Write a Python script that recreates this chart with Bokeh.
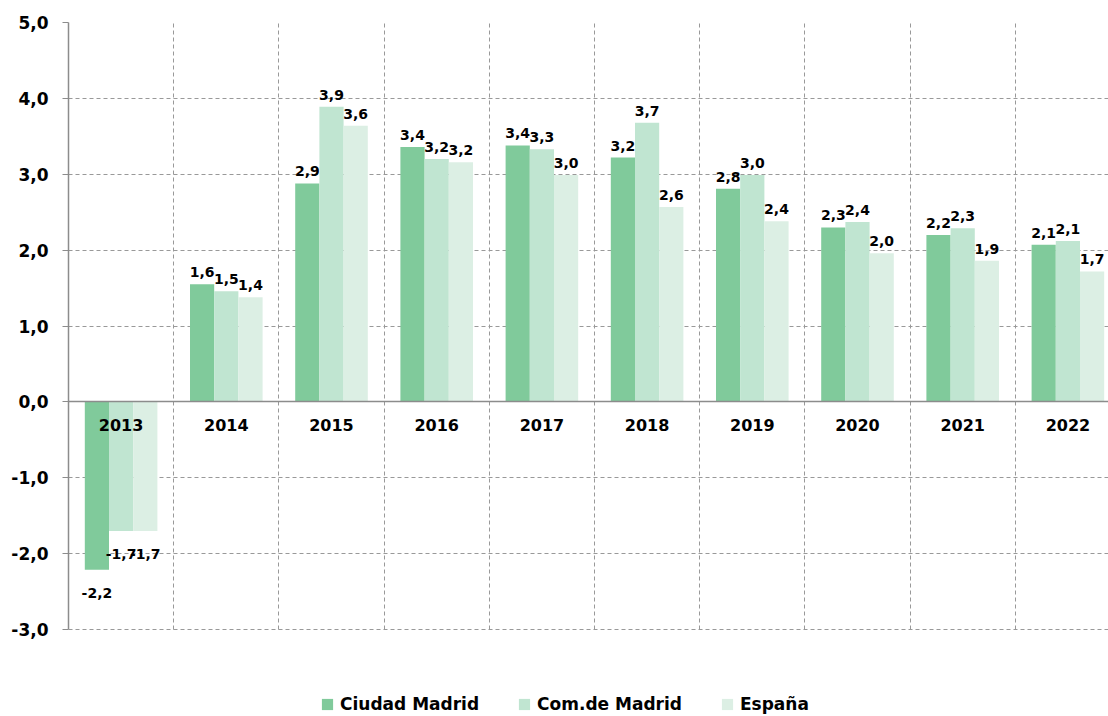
from bokeh.plotting import figure
from bokeh.models import Range1d, FixedTicker, ColumnDataSource, Legend, LegendItem
from bokeh.embed import file_html
from bokeh.resources import INLINE
from bokeh.core.properties import value

years = ["2013", "2014", "2015", "2016", "2017", "2018", "2019", "2020", "2021", "2022"]
series_names = ["Ciudad Madrid", "Com.de Madrid", "España"]
ciudad = [-2.21, 1.55, 2.88, 3.36, 3.38, 3.22, 2.81, 2.30, 2.20, 2.07]
comunidad = [-1.70, 1.46, 3.89, 3.20, 3.33, 3.68, 2.99, 2.37, 2.29, 2.12]
espana = [-1.70, 1.38, 3.64, 3.16, 2.99, 2.57, 2.38, 1.96, 1.86, 1.72]
y_ticks = [-3, -2, -1, 0, 1, 2, 3, 4, 5]

colors = ["#80CA9B", "#C0E5D1", "#DCEFE4"]
FONT = "DejaVu Sans"

# frame extends below -3 to hold the legend; axis/grid are bounded to [-3, 5]
p = figure(frame_width=1040, frame_height=692, output_backend="svg", toolbar_location=None,
           x_range=Range1d(0, 9.886), y_range=Range1d(-4.118, 5),
           min_border_left=68, min_border_top=22, min_border_right=0, min_border_bottom=0)
p.outline_line_color = None
p.background_fill_color = "white"

bw = 0.23
offsets = [-bw, 0.0, bw]
series = [ciudad, comunidad, espana]
centers = [i + 0.5 for i in range(len(years))]

items = []
for s_vals, off, col, name in zip(series, offsets, colors, series_names):
    xs = [c + off for c in centers]
    src = ColumnDataSource(dict(x=xs, top=s_vals))
    r = p.vbar(x="x", top="top", bottom=0, width=bw, source=src,
               fill_color=col, line_color=None)
    items.append(LegendItem(label=name, renderers=[r]))
    labs = [f"{v:.1f}".replace(".", ",") for v in s_vals]
    pos = [(x, v, l) for x, v, l in zip(xs, s_vals, labs) if v >= 0]
    neg = [(x, v, l) for x, v, l in zip(xs, s_vals, labs) if v < 0]
    if pos:
        ps = ColumnDataSource(dict(x=[a[0] for a in pos], y=[a[1] for a in pos], t=[a[2] for a in pos]))
        p.text(x="x", y="y", text="t", source=ps, text_align="center", text_baseline="bottom",
               y_offset=-7, text_font=value(FONT), text_font_style="bold",
               text_font_size="14px", text_color="black")
    if neg:
        ns = ColumnDataSource(dict(x=[a[0] for a in neg], y=[a[1] for a in neg], t=[a[2] for a in neg]))
        p.text(x="x", y="y", text="t", source=ns, text_align="center", text_baseline="top",
               y_offset=18, text_font=value(FONT), text_font_style="bold",
               text_font_size="14px", text_color="black")

# grids
p.ygrid.ticker = FixedTicker(ticks=y_ticks)
p.xgrid.ticker = FixedTicker(ticks=list(range(1, len(years))))
p.xgrid.cross_bounds = (-3, 5)
for g in (p.xgrid, p.ygrid):
    g.grid_line_color = "#999999"
    g.grid_line_dash = "4 3"
    g.grid_line_width = 1

# y axis
ya = p.yaxis[0]
ya.ticker = FixedTicker(ticks=y_ticks)
ya.major_label_overrides = {t: f"{t:.1f}".replace(".", ",") for t in y_ticks}
ya.axis_line_color = "#8c8c8c"
ya.axis_line_width = 1.5
ya.major_tick_line_color = "#8c8c8c"
ya.major_tick_out = 6
ya.major_tick_in = 0
ya.minor_tick_line_color = None
ya.major_label_standoff = 14
ya.major_label_text_font = FONT
ya.major_label_text_font_style = "bold"
ya.major_label_text_font_size = "17px"
ya.major_label_text_color = "black"
ya.bounds = (-3, 5)

# x axis at zero
xa = p.xaxis[0]
xa.fixed_location = 0
xa.ticker = FixedTicker(ticks=centers)
xa.major_label_overrides = {c: y for c, y in zip(centers, years)}
xa.axis_line_color = "#8c8c8c"
xa.axis_line_width = 1.5
xa.major_tick_line_color = None
xa.minor_tick_line_color = None
xa.major_label_standoff = 11
xa.major_label_text_font = FONT
xa.major_label_text_font_style = "bold"
xa.major_label_text_font_size = "16px"
xa.major_label_text_color = "black"

legend = Legend(items=items, orientation="horizontal", location=(252, 0),
                glyph_width=14, glyph_height=14, label_standoff=6, spacing=38,
                label_text_font=FONT, label_text_font_style="bold",
                label_text_font_size="17px", label_text_color="black",
                border_line_color=None, background_fill_alpha=0,
                margin=0, padding=0)
p.add_layout(legend, "center")

open("out.html", "w").write(file_html(p, INLINE))
